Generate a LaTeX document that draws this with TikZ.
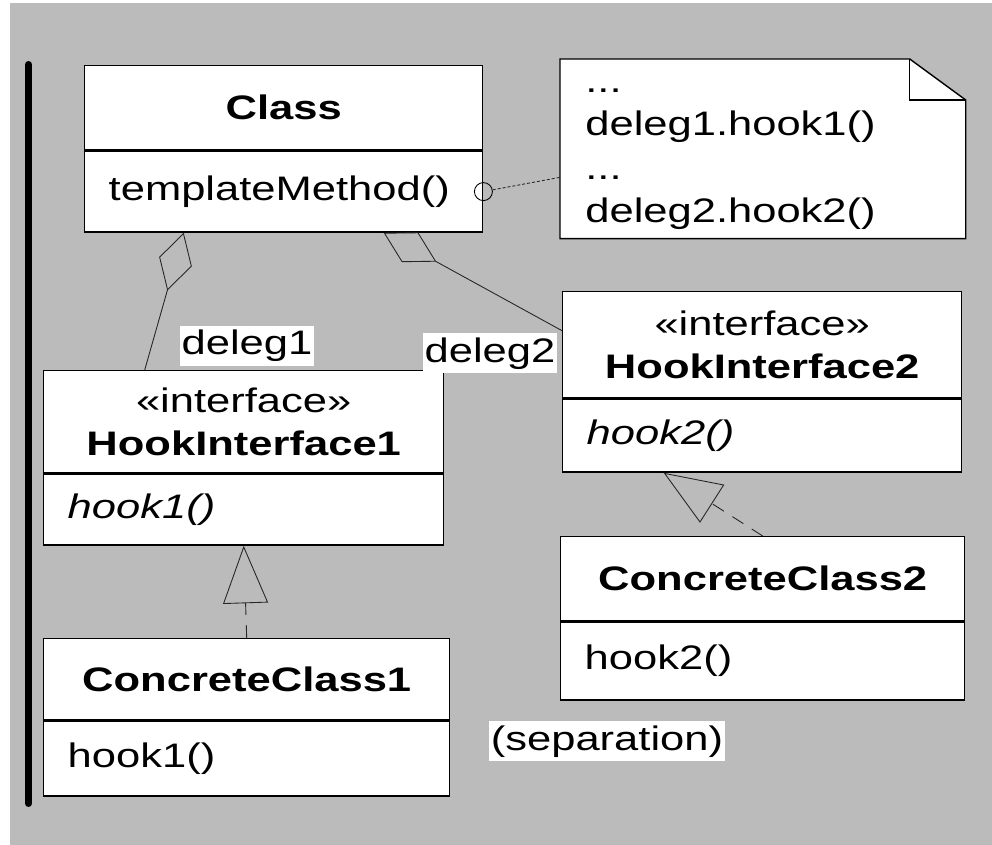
\documentclass[tikz,border=0pt]{standalone}
\usepackage{fontspec}
\setmainfont{Liberation Sans}[FakeStretch=1.28]
\usetikzlibrary{positioning,arrows.meta}
\definecolor{bggray}{RGB}{187,187,187}

\begin{document}
\begin{tikzpicture}[
  font=\fontsize{19.35}{24.7}\selectfont,
  head/.style={draw, fill=white, line width=0.8pt, inner sep=0pt, align=center, anchor=north west},
  body/.style={draw, fill=white, line width=0.8pt, inner xsep=0.48cm, inner ysep=0pt, align=left},
  notebox/.style={fill=white, anchor=north west, inner xsep=0.5cm, inner ysep=0pt, text width=7.1cm, minimum height=3.58cm, align=left},
  link/.style={draw, line width=0.5pt, black!85},
  agg/.style={link, {Diamond[open,length=1.2cm,width=0.68cm]}-},
  real/.style={link, -{Triangle[open,length=1.15cm,width=0.9cm]}, dash pattern=on 0.26cm off 0.2cm},
  role/.style={fill=white, inner xsep=0.04cm, inner ysep=0pt, text height=0.58cm, text depth=0.22cm}
]
\useasboundingbox (0,0) rectangle (19.84,16.9);
\fill[bggray] (0.2,0) rectangle (19.84,16.84);
\draw[line width=0.14cm, line cap=round] (0.57,15.61) -- (0.57,0.83);

% template class
\node[head, minimum width=7.96cm, minimum height=1.68cm] (cls) at (1.68,15.6) {\textbf{Class}};
\node[body, text width=7.0cm, minimum height=1.62cm, below=0pt of cls] (clsm) {templateMethod()};

% hook interfaces
\node[head, minimum width=8.0cm, minimum height=2.04cm] (hi1h) at (0.86,9.5) {«interface»\\\textbf{HookInterface1}};
\node[body, text width=7.04cm, minimum height=1.42cm, below=0pt of hi1h] (hi1b) {\textit{hook1()}};
\node[head, minimum width=7.98cm, minimum height=2.12cm] (hi2h) at (11.24,11.08) {«interface»\\\textbf{HookInterface2}};
\node[body, text width=7.02cm, minimum height=1.46cm, below=0pt of hi2h] (hi2b) {\textit{hook2()}};

% concrete classes
\node[head, minimum width=8.12cm, minimum height=1.62cm] (cc1h) at (0.86,4.14) {\textbf{ConcreteClass1}};
\node[body, text width=7.16cm, minimum height=1.5cm, below=0pt of cc1h] (cc1b) {hook1()};
\node[head, minimum width=8.08cm, minimum height=1.68cm] (cc2h) at (11.2,6.18) {\textbf{ConcreteClass2}};
\node[body, text width=7.12cm, minimum height=1.56cm, below=0pt of cc2h] (cc2b) {hook2()};

% note
\node[notebox] (note) at (11.2,15.72) {\strut...\\\strut deleg1.hook1()\\\strut...\\\strut deleg2.hook2()};
\fill[bggray] ([xshift=-1.12cm]note.north east) -- (note.north east) -- ([yshift=-0.82cm]note.north east) -- cycle;
\draw[line width=0.8pt] ([xshift=-1.12cm]note.north east) -- (note.north west) -- (note.south west) -- (note.south east) -- ([yshift=-0.82cm]note.north east) -- cycle;
\draw[line width=0.6pt] ([xshift=-1.12cm]note.north east) |- ([yshift=-0.82cm]note.north east);

\node[circle, draw, line width=0.5pt, inner sep=0pt, minimum size=0.36cm] (port) at (clsm.east) {};
\path[link, dash pattern=on 0.06cm off 0.04cm] (port) -- ([yshift=-0.57cm]note.west);

% connectors
\path[agg] ([xshift=-2cm]clsm.south) -- ([xshift=-1.98cm]hi1h.north);
\path[agg] ([xshift=2cm]clsm.south) -- ([yshift=0.28cm]hi2h.west);
\path[real] (cc1h.north) -- (hi1b.south);
\path[real] (cc2h.north) -- ([xshift=-1.97cm]hi2b.south);

\node[role] (d1) at (4.94,9.98) {deleg1};
\node[role] (d2) at (9.8,9.83) {deleg2};
\node[role] (sep) at (12.14,2.07) {(separation)};
\end{tikzpicture}
\end{document}
